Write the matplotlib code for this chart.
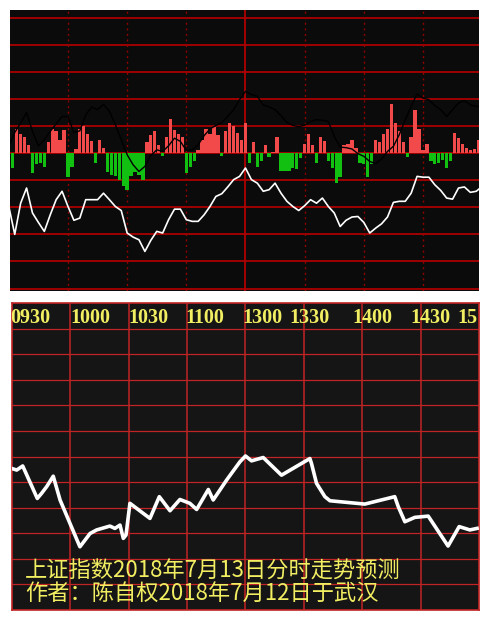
"""
上证指数 分时走势 — intraday panel + hand-drawn forecast panel
Run: python plot.py
"""
import numpy as np
import matplotlib
matplotlib.use("Agg")
import matplotlib.pyplot as plt

# ── Top panel data (minutes since 09:30, grid units) ─────────────────────────
top_t = list(range(0, 240, 3)) + [239]
white_line = [-1.97, -3.00, -1.85, -1.29, -2.21, -2.56, -2.89, -2.28, -1.72, -1.41,
              -1.97, -2.48, -2.40, -1.72, -1.72, -1.72, -1.48, -1.72, -1.97, -2.12,
              -2.95, -3.10, -3.20, -3.63, -3.22, -2.89, -2.95, -2.46, -2.07, -2.07,
              -2.46, -2.52, -2.52, -2.28, -1.97, -1.60, -1.50, -1.25, -0.98, -0.86,
              -0.55, -0.98, -1.11, -1.41, -1.35, -1.11, -1.48, -1.78, -1.97, -2.12,
              -1.94, -1.72, -1.85, -1.66, -1.97, -2.21, -2.71, -2.48, -2.36, -2.34,
              -2.56, -2.95, -2.77, -2.61, -2.36, -1.82, -1.78, -1.78, -1.48, -0.86,
              -0.89, -0.89, -1.17, -1.38, -1.66, -1.70, -1.29, -1.25, -1.45, -1.41,
              -1.29]
black_line = [0.25, 0.76, 1.11, 1.50, 0.80, 0.27, 0.49, 0.80, 1.08, 1.35,
              1.35, 0.76, 0.82, 1.41, 1.70, 1.60, 1.80, 1.54, 1.05, 0.49,
              -0.06, -0.43, -0.68, -0.49, -0.10, 0.12, 0.06, 0.27, 0.55, 0.43,
              0.10, 0.12, 0.31, 0.64, 0.89, 1.02, 1.13, 1.35, 1.60, 1.97,
              2.28, 2.16, 2.09, 1.78, 1.70, 1.60, 1.38, 1.13, 1.02, 0.98,
              1.03, 1.17, 1.23, 1.21, 1.17, 0.62, 0.22, 0.20, 0.15, -0.02,
              -0.12, -0.31, -0.39, -0.22, 0.06, 0.25, 0.68, 1.23, 1.72, 2.19,
              2.03, 1.97, 1.75, 1.60, 1.35, 1.60, 1.85, 1.94, 1.78, 1.72,
              1.72]

bar_t = list(range(0, 240, 2))
bar_v = [0.30, -0.55, 0.90, 0.70, 0.60, 0.30, -0.75, -0.40, -0.35, -0.50,
         0.40, 0.90, 0.80, 0.50, 0.85, -0.90, -0.50, 0.15, 0.90, 1.00,
         0.70, 0.45, -0.35, 0.50, 0.20, -0.70, -0.80, -0.85, -1.00, -1.20,
         -1.35, -0.85, -0.70, -0.80, -1.00, 0.40, 0.65, 0.80, 0.30, -0.10,
         0.60, 1.25, 0.85, 0.70, 0.60, -0.75, -0.50, -0.30, 0.10, 0.50,
         0.90, 0.70, 0.95, 0.65, -0.10, 0.80, 1.10, 1.00, 0.75, 0.50,
         1.10, -0.35, 0.40, -0.50, -0.30, 0.30, -0.15, 0.05, 0.60, -0.65,
         -0.65, -0.65, -0.55, -0.60, -0.20, 0.35, 0.70, 0.30, -0.35, 0.60,
         0.45, -0.30, -0.55, -1.10, -0.90, 0.30, 0.35, 0.50, 0.20, -0.35,
         -0.40, -0.90, -0.40, 0.50, 0.40, 0.70, 0.90, 1.80, 1.10, 0.80,
         0.40, -0.15, 0.60, 1.60, 0.90, 0.10, 0.35, -0.30, -0.40, -0.35,
         -0.25, -0.55, -0.30, 0.75, 0.55, 0.35, 0.20, 0.10, 0.15, 0.50]

# ── Bottom panel data (forecast vertices) ────────────────────────────────────
pred_t = [0, 2.4, 5.5, 13.0, 15.2, 17.8, 21.2, 24.7, 34.9, 40.1, 43.5, 50.3,
          52.9, 55.5, 57.2, 58.6, 60.6, 70.9, 75.7, 81.2, 86.3, 91.4, 94.9,
          100.9, 103.4, 110.3, 117.1, 120.0, 123.1, 129.1, 138.5, 153.1, 153.9,
          156.5, 160.8, 163.4, 181.3, 196.7, 198.5, 201.9, 207.0, 213.9, 224.1,
          229.8, 235.3, 239.0]
pred_v = [5.53, 5.47, 5.63, 4.36, 4.56, 4.82, 5.23, 4.30, 2.47, 2.99, 3.13, 3.28,
          3.19, 3.32, 2.80, 2.93, 4.17, 3.58, 4.43, 3.88, 4.32, 4.17, 3.93,
          4.71, 4.30, 5.08, 5.79, 6.02, 5.83, 5.96, 5.27, 5.92, 5.73,
          4.95, 4.43, 4.27, 4.14, 4.43, 4.04, 3.45, 3.62, 3.67, 2.50,
          3.26, 3.13, 3.19]

time_labels = ["0930", "1000", "1030", "1100", "1300", "1330", "1400", "1430", "15"]
label_t = [-1.0, 29.8, 59.6, 88.9, 118.2, 142.3, 174.7, 204.5, 228.7]
title_lines = ["上证指数2018年7月13日分时走势预测", "作者：陈自权2018年7月12日于武汉"]

YELLOW = "#f2ee62"
GRID_RED = "#c02424"
W, H = 489, 621

fig = plt.figure(figsize=(W / 100, H / 100), dpi=100, facecolor="white")

def px_axes(x0, y0, x1, y1):
    return fig.add_axes([x0 / W, 1 - y1 / H, (x1 - x0) / W, (y1 - y0) / H])

# ── Top panel ────────────────────────────────────────────────────────────────
ax = px_axes(10, 10, 479, 291)
ax.set_facecolor("#0b0b0b")
ax.set_xlim(0.6, 238.4); ax.set_ylim(-5.09, 5.28)
for y in range(-5, 6):
    ax.axhline(y, color="#a00000", lw=1.4, zorder=1)
for t in range(30, 240, 30):
    if t == 120:
        ax.axvline(t, color="#b00000", lw=1.3, zorder=1)
    else:
        ax.axvline(t, color="#900000", lw=1.0, ls=(0, (1.5, 2.5)), zorder=1)
bv = np.array(bar_v)
cols = np.where(bv >= 0, "#f24a4a", "#12c012")
ax.bar(bar_t, bv, width=1.7, color=cols, zorder=2)
ax.plot(top_t, black_line, color="black", lw=1.0, zorder=3)
ax.plot(top_t, white_line, color="white", lw=1.2, zorder=3)
for s in ax.spines.values():
    s.set_visible(False)
ax.set_xticks([]); ax.set_yticks([])

# ── Bottom panel ─────────────────────────────────────────────────────────────
bx = px_axes(12, 303, 479, 610)
bx.set_facecolor("#151515")
bx.set_xlim(0, 240); bx.set_ylim(0, 12)
for y in range(1, 12):
    bx.axhline(y, color=GRID_RED, lw=0.9, zorder=1)
for t in range(30, 240, 30):
    bx.axvline(t, color=GRID_RED, lw=1.1, zorder=1)
for s in bx.spines.values():
    s.set_color(GRID_RED); s.set_linewidth(1.2)
bx.set_xticks([]); bx.set_yticks([])
bx.plot(pred_t, pred_v, color="white", lw=2.6, solid_joinstyle="round", zorder=3)
for lab, t in zip(time_labels, label_t):
    bx.text(t, 11.42, lab, color=YELLOW, fontsize=14.5, fontweight="bold",
            family="Liberation Serif", ha="left", va="center", clip_on=True, zorder=4)
for i, line in enumerate(title_lines):
    bx.text(6.7, 1.52 - 0.86 * i, line, color=YELLOW, fontsize=16,
            family=["Noto Sans CJK SC", "DejaVu Sans"], ha="left", va="center", zorder=4)

plt.savefig("out.png", dpi=100, facecolor="white")
